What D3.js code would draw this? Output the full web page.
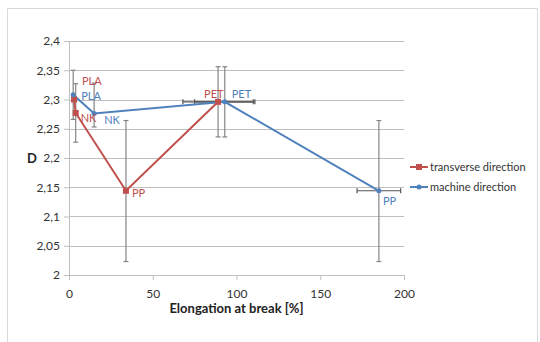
<!DOCTYPE html>
<html>
<head>
<meta charset="utf-8">
<script src="https://cdn.jsdelivr.net/npm/d3@7"></script>
<style>
  body { margin: 0; background: #fff; }
  svg text { font-family: Lato, "Open Sans", sans-serif; }
</style>
</head>
<body>
<div class="chart"></div>
<script>
// data
var transNames = ["PLA", "NK", "PP", "PET"];
var transX = [3, 4, 34, 89];
var transY = [2.300, 2.277, 2.144, 2.296];
var transYLow = [null, 2.227, 2.023, 2.236];
var transYHigh = [null, 2.327, 2.264, 2.356];
var transXErr = [0, 0, 0, 21];

var machNames = ["PLA", "NK", "PET", "PP"];
var machX = [2.5, 15, 93, 185];
var machY = [2.308, 2.276, 2.296, 2.144];
var machYLow = [2.266, 2.253, 2.236, 2.023];
var machYHigh = [2.350, 2.328, 2.356, 2.264];
var machXErr = [0, 0, 18, 13];

var xTicks = [0, 50, 100, 150, 200];
var yTicks = [2, 2.05, 2.1, 2.15, 2.2, 2.25, 2.3, 2.35, 2.4];

var svgWidth = 540;
var svgHeight = 342;

var margin = { top: 41, right: 136, bottom: 67, left: 69 };
var width = svgWidth - margin.left - margin.right;
var height = svgHeight - margin.top - margin.bottom;

var red = "#c0504d";
var blue = "#4f81bd";
var gray = "#858585";

var svg = d3.select(".chart")
    .append("svg")
    .attr("width", svgWidth)
    .attr("height", svgHeight);

// outer frame
svg.append("path")
    .attr("d", "M7.5," + svgHeight + " V8.5 H537.5 V" + svgHeight)
    .attr("fill", "none")
    .attr("stroke", "#d9d9d9")
    .attr("stroke-width", 1);

var chartGroup = svg.append("g")
    .attr("transform", `translate(${margin.left}, ${margin.top})`);

var xScale = d3.scaleLinear().domain([0, 200]).range([0, width]);
var yScale = d3.scaleLinear().domain([2, 2.4]).range([height, 0]);

// gridlines
chartGroup.selectAll(".grid")
    .data(yTicks.slice(1))
    .enter()
    .append("line")
    .attr("x1", 0)
    .attr("x2", width)
    .attr("y1", d => Math.round(yScale(d)) + 0.5)
    .attr("y2", d => Math.round(yScale(d)) + 0.5)
    .attr("stroke", "#bfbfbf");

var fmt = d => String(d).replace(".", ",");

var bottomAxis = d3.axisBottom(xScale).tickValues(xTicks).tickSize(5).tickFormat(fmt);
var leftAxis = d3.axisLeft(yScale).tickValues(yTicks).tickSize(5).tickFormat(fmt);

var gx = chartGroup.append("g")
    .attr("transform", `translate(0, ${height})`)
    .call(bottomAxis);
var gy = chartGroup.append("g")
    .call(leftAxis);

[gx, gy].forEach(function (g) {
    g.select(".domain").attr("stroke", "#bfbfbf");
    g.selectAll(".tick line").attr("stroke", "#bfbfbf");
    g.selectAll("text")
        .attr("fill", "#333")
        .style("font-size", "12px");
});
gx.selectAll("text").attr("dy", "1.25em");
gy.selectAll("text").attr("x", -9);

// error bars
function errorBars(xs, ys, lows, highs, xErr) {
    xs.forEach(function (x, i) {
        var cx = xScale(x);
        if (lows[i] !== null) {
            var y1 = yScale(highs[i]);
            var y2 = yScale(lows[i]);
            chartGroup.append("line")
                .attr("x1", cx).attr("x2", cx)
                .attr("y1", y1).attr("y2", y2)
                .attr("stroke", gray).attr("stroke-width", 1.2);
            [y1, y2].forEach(function (yy) {
                chartGroup.append("line")
                    .attr("x1", cx - 2.5).attr("x2", cx + 2.5)
                    .attr("y1", yy).attr("y2", yy)
                    .attr("stroke", gray).attr("stroke-width", 1.2);
            });
        }
        if (xErr[i] > 0) {
            var cy = yScale(ys[i]);
            var x1 = xScale(x - xErr[i]);
            var x2 = xScale(x + xErr[i]);
            chartGroup.append("line")
                .attr("x1", x1).attr("x2", x2)
                .attr("y1", cy).attr("y2", cy)
                .attr("stroke", "#555").attr("stroke-width", 1.2);
            [x1, x2].forEach(function (xx) {
                chartGroup.append("line")
                    .attr("x1", xx).attr("x2", xx)
                    .attr("y1", cy - 2.5).attr("y2", cy + 2.5)
                    .attr("stroke", "#555").attr("stroke-width", 1.2);
            });
        }
    });
}

errorBars(transX, transY, transYLow, transYHigh, transXErr);
errorBars(machX, machY, machYLow, machYHigh, machXErr);

var line = d3.line()
    .x(d => xScale(d[0]))
    .y(d => yScale(d[1]));

var transPts = transX.map((x, i) => [x, transY[i]]);
var machPts = machX.map((x, i) => [x, machY[i]]);

chartGroup.append("path")
    .datum(transPts)
    .attr("fill", "none")
    .attr("stroke", red)
    .attr("stroke-width", 2)
    .attr("d", line);

chartGroup.append("path")
    .datum(machPts)
    .attr("fill", "none")
    .attr("stroke", blue)
    .attr("stroke-width", 2)
    .attr("d", line);

chartGroup.selectAll(".tm")
    .data(transPts)
    .enter()
    .append("rect")
    .attr("x", d => xScale(d[0]) - 3)
    .attr("y", d => yScale(d[1]) - 3)
    .attr("width", 6)
    .attr("height", 6)
    .attr("fill", red);

chartGroup.selectAll(".mm")
    .data(machPts)
    .enter()
    .append("circle")
    .attr("cx", d => xScale(d[0]))
    .attr("cy", d => yScale(d[1]))
    .attr("r", 2.5)
    .attr("fill", blue);

// point labels
var transOffsets = [[8, -18], [5, 5], [6, 2], [-14, -8]];
var machOffsets = [[8, 1], [10, 7], [7, -8], [4, 10]];

transPts.forEach(function (d, i) {
    chartGroup.append("text")
        .attr("x", xScale(d[0]) + transOffsets[i][0])
        .attr("y", yScale(d[1]) + transOffsets[i][1])
        .attr("dy", "0.35em")
        .attr("fill", red)
        .style("font-size", "11px")
        .text(transNames[i]);
});

machPts.forEach(function (d, i) {
    chartGroup.append("text")
        .attr("x", xScale(d[0]) + machOffsets[i][0])
        .attr("y", yScale(d[1]) + machOffsets[i][1])
        .attr("dy", "0.35em")
        .attr("fill", blue)
        .style("font-size", "11px")
        .text(machNames[i]);
});

// axis titles
chartGroup.append("text")
    .attr("x", width / 2)
    .attr("y", height + 38)
    .attr("text-anchor", "middle")
    .attr("fill", "#222")
    .style("font-size", "13px")
    .style("font-weight", "bold")
    .text("Elongation at break [%]");

chartGroup.append("text")
    .attr("x", -42)
    .attr("y", yScale(2.2))
    .attr("dy", "0.35em")
    .attr("fill", "#222")
    .style("font-size", "13px")
    .style("font-weight", "bold")
    .text("D");

// legend
var legendItems = [
    { name: "transverse direction", color: red, square: true },
    { name: "machine direction", color: blue, square: false }
];

var legend = svg.append("g").attr("transform", "translate(410, 167)");
legendItems.forEach(function (item, i) {
    var g = legend.append("g").attr("transform", `translate(0, ${i * 20})`);
    g.append("line")
        .attr("x1", 0).attr("x2", 18)
        .attr("stroke", item.color).attr("stroke-width", 2);
    if (item.square) {
        g.append("rect").attr("x", 6).attr("y", -3).attr("width", 6).attr("height", 6).attr("fill", item.color);
    } else {
        g.append("circle").attr("cx", 9).attr("r", 2.5).attr("fill", item.color);
    }
    g.append("text")
        .attr("x", 20)
        .attr("dy", "0.35em")
        .attr("fill", "#333")
        .style("font-size", "11px")
        .text(item.name);
});
</script>
</body>
</html>
